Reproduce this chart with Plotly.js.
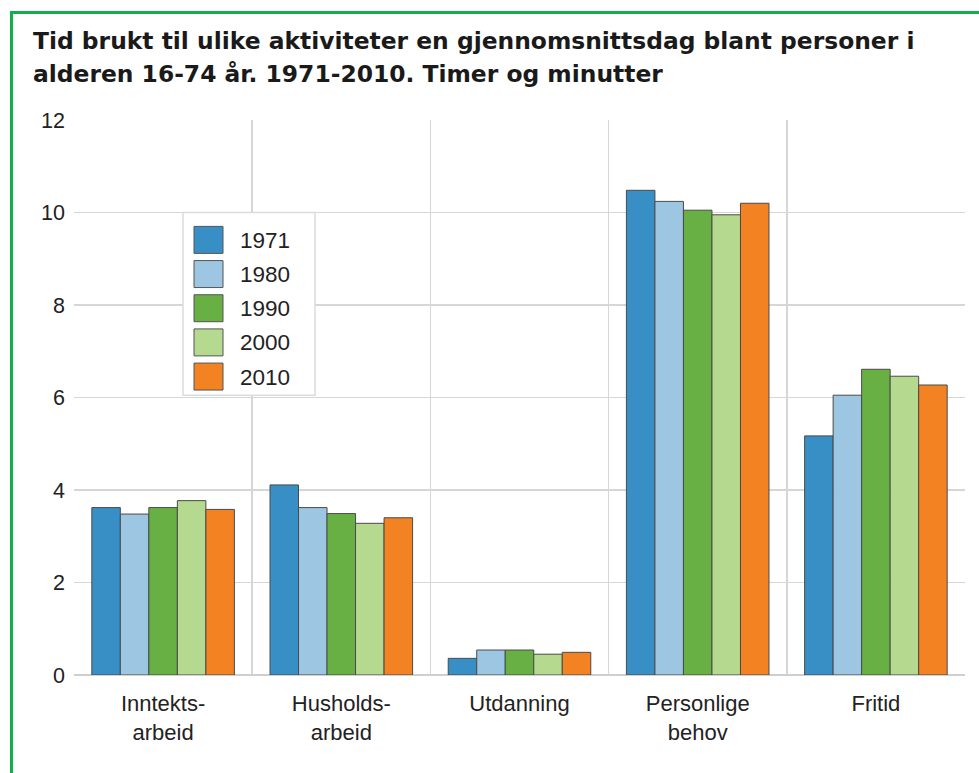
<!DOCTYPE html>
<html>
<head>
<meta charset="utf-8">
<script src="https://cdn.plot.ly/plotly-3.0.1.min.js"></script>
<style>
  html, body { margin: 0; padding: 0; background: #fff; }
  #wrap { position: relative; width: 979px; height: 773px; overflow: hidden; }
  #chart { position: absolute; left: 0; top: 0; width: 979px; height: 773px; }
  #frame { position: absolute; left: 10px; top: 11px; width: 990px; height: 800px;
           border-left: 3px solid #12b04c; border-top: 3px solid #12b04c; pointer-events: none; }
</style>
</head>
<body>
<div id="wrap">
  <div id="chart"></div>
  <div id="frame"></div>
</div>
<script>
// ---- data ----
const categories = ["Inntekts-<br>arbeid", "Husholds-<br>arbeid", "Utdanning", "Personlige<br>behov", "Fritid"];
const years = ["1971", "1980", "1990", "2000", "2010"];
const colors = ["#378fc5", "#9dc6e3", "#68b044", "#b5d98f", "#f28222"];
const v1971 = [3.62, 4.11, 0.36, 10.48, 5.17];
const v1980 = [3.48, 3.62, 0.54, 10.24, 6.05];
const v1990 = [3.62, 3.49, 0.54, 10.05, 6.61];
const v2000 = [3.77, 3.28, 0.45, 9.95, 6.46];
const v2010 = [3.58, 3.40, 0.49, 10.20, 6.27];
const series = [v1971, v1980, v1990, v2000, v2010];
const yTicks = [0, 2, 4, 6, 8, 10, 12];
const titleLines = ["Tid brukt til ulike aktiviteter en gjennomsnittsdag blant personer i",
                    "alderen 16-74 år. 1971-2010. Timer og minutter"];

// ---- geometry helpers (pixel -> paper) ----
const W = 979, H = 773;
const mL = 74, mR = 14, mT = 119.5, mB = 98;
const pw = W - mL - mR, ph = H - mT - mB;
const px = x => (x - mL) / pw;
const py = y => (H - mB - y) / ph;

const FONT = "Liberation Sans, Arial, sans-serif";
const TFONT = "DejaVu Sans, Liberation Sans, sans-serif";

const traces = series.map((vals, i) => ({
  type: "bar",
  name: years[i],
  x: categories,
  y: vals,
  marker: { color: colors[i], line: { color: "#4a4a4a", width: 1 } },
  showlegend: false,
  hoverinfo: "y+name"
}));

const shapes = [];
const annotations = [];

// title
titleLines.forEach((t, i) => {
  annotations.push({
    xref: "paper", yref: "paper", x: px(31), y: py(24.5 + i * 33),
    xanchor: "left", yanchor: "top", showarrow: false,
    text: "<b>" + t + "</b>", align: "left",
    font: { family: TFONT, size: 23.4, color: "#1a1a1a" }
  });
});

// legend (manual, to match big swatches)
shapes.push({
  type: "rect", xref: "paper", yref: "paper",
  x0: px(183), x1: px(315), y0: py(212), y1: py(395),
  fillcolor: "#ffffff", line: { color: "#dcdcdc", width: 1.5 }, layer: "above"
});
years.forEach((yr, i) => {
  const top = 226 + i * 34.2;
  shapes.push({
    type: "rect", xref: "paper", yref: "paper",
    x0: px(194), x1: px(223), y0: py(top), y1: py(top + 27),
    fillcolor: colors[i], line: { color: "#555555", width: 1 }, layer: "above"
  });
  annotations.push({
    xref: "paper", yref: "paper", x: px(238), y: py(top + 14),
    xanchor: "left", yanchor: "middle", showarrow: false,
    text: yr, font: { family: FONT, size: 22.5, color: "#222" }
  });
});

const layout = {
  width: W, height: H,
  margin: { l: mL, r: mR, t: mT, b: mB, pad: 0 },
  paper_bgcolor: "#ffffff",
  plot_bgcolor: "#ffffff",
  barmode: "group",
  bargap: 0.2,
  bargroupgap: 0,
  font: { family: FONT, color: "#222" },
  xaxis: {
    type: "category",
    tickson: "boundaries",
    showgrid: true, gridcolor: "#d6d6d6", gridwidth: 1.5,
    ticks: "", showline: false,
    tickfont: { family: FONT, size: 22, color: "#222" },
    ticklabelstandoff: 13,
    range: [-0.5, 4.5], fixedrange: true
  },
  yaxis: {
    range: [0, 12],
    tickvals: yTicks,
    ticktext: yTicks.map(String),
    showgrid: true, gridcolor: "#d6d6d6", gridwidth: 1.5,
    zeroline: true, zerolinecolor: "#cfcfcf", zerolinewidth: 1.5,
    ticks: "", showline: false,
    tickfont: { family: FONT, size: 21.5, color: "#222" },
    ticklabelstandoff: 8,
    fixedrange: true
  },
  shapes: shapes,
  annotations: annotations
};

Plotly.newPlot("chart", traces, layout, { displayModeBar: false, staticPlot: true });
</script>
</body>
</html>
